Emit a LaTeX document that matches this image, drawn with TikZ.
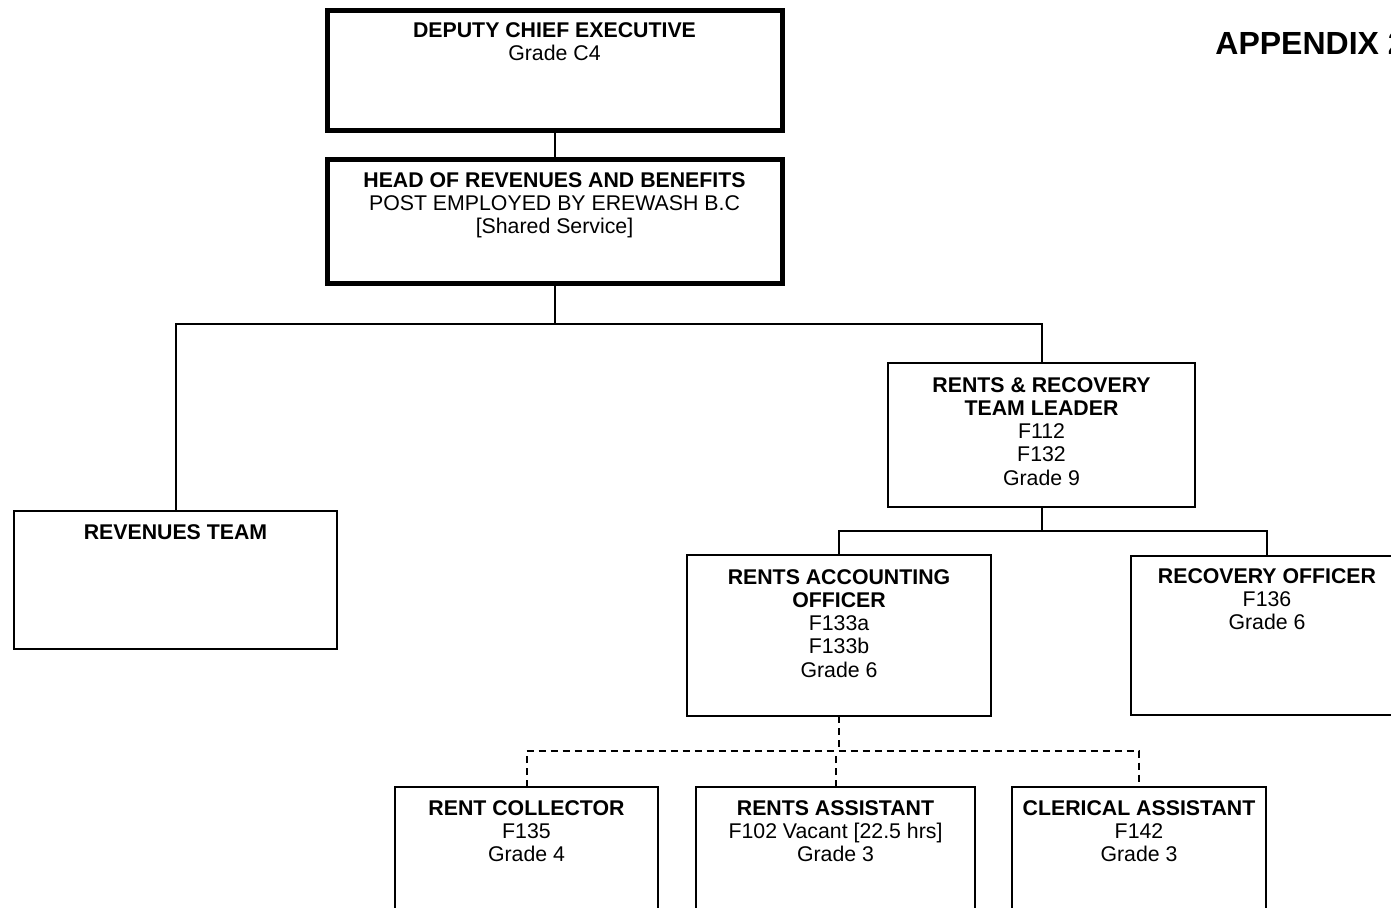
\documentclass[tikz,border=0pt]{standalone}
\usepackage{fontspec}
\setmainfont{Liberation Sans}
\begin{document}
\begin{tikzpicture}[x=0.5pt,y=-0.5pt,
  box/.style={draw, line width=1pt, inner sep=0pt, outer sep=0pt},
  thickbox/.style={box, line width=2.5pt},
  lbl/.style={anchor=north, inner sep=0pt, align=center, font=\fontsize{10.65pt}{11.6pt}\selectfont},
  conn/.style={line width=1pt},
  dconn/.style={line width=1pt, dash pattern=on 3.5pt off 2.5pt}]
\path[use as bounding box] (0,0) rectangle (1391,907);
\clip (0,0) rectangle (1391,907);

% boxes
\node[thickbox, minimum width=227.5pt, minimum height=60pt] (dce) at (554.5,70) {};
\node[thickbox, minimum width=227.5pt, minimum height=62pt] (hrb) at (554.5,221) {};
\node[box, minimum width=161.5pt, minimum height=69pt] (rev) at (175.5,580) {};
\node[box, minimum width=153.5pt, minimum height=72pt] (rrtl) at (1041.5,435) {};
\node[box, minimum width=152pt, minimum height=80.5pt] (rao) at (839,635.5) {};
\node[box, minimum width=136pt, minimum height=79.5pt] (rec) at (1267,635.5) {};
\node[box, minimum width=131.5pt, minimum height=73pt] (rc) at (526.5,860) {};
\node[box, minimum width=139.5pt, minimum height=73pt] (ra) at (835.5,860) {};
\node[box, minimum width=127pt, minimum height=73pt] (ca) at (1139,860) {};

% texts
\node[lbl] (dce-t) at ([yshift=-6pt]dce.north) {\textbf{DEPUTY CHIEF EXECUTIVE}\\Grade C4};
\node[lbl] (hrb-t) at ([yshift=-6.5pt]hrb.north) {\textbf{HEAD OF REVENUES AND BENEFITS}\\POST EMPLOYED BY EREWASH B.C\\{[}Shared Service{]}};
\node[lbl] (rev-t) at ([yshift=-6.5pt]rev.north) {\textbf{REVENUES TEAM}};
\node[lbl] (rrtl-t) at ([yshift=-7pt]rrtl.north) {\textbf{RENTS \& RECOVERY}\\\textbf{TEAM LEADER}\\F112\\F132\\Grade 9};
\node[lbl] (rao-t) at ([yshift=-7pt]rao.north) {\textbf{RENTS ACCOUNTING}\\\textbf{OFFICER}\\F133a\\F133b\\Grade 6};
\node[lbl] (rec-t) at ([yshift=-6pt]rec.north) {\textbf{RECOVERY OFFICER}\\F136\\Grade 6};
\node[lbl] (rc-t) at ([yshift=-6.5pt]rc.north) {\textbf{RENT COLLECTOR}\\F135\\Grade 4};
\node[lbl] (ra-t) at ([yshift=-6.5pt]ra.north) {\textbf{RENTS ASSISTANT}\\F102 Vacant {[}22.5 hrs{]}\\Grade 3};
\node[lbl] (ca-t) at ([yshift=-6.5pt]ca.north) {\textbf{CLERICAL ASSISTANT}\\F142\\Grade 3};
\node[anchor=base west, inner sep=0pt, font=\fontsize{16pt}{19pt}\selectfont\bfseries] (app) at (1215,54) {APPENDIX 2};

% connectors
\coordinate (j1) at (554.5,324);
\coordinate (j2) at (1041.5,531);
\coordinate (j3) at (839,751);
\draw[conn] (dce.south) -- (hrb.north);
\draw[conn] (hrb.south) -- (j1);
\draw[conn] (rev.north) |- (j1) -| (rrtl.north);
\draw[conn] (rrtl.south) -- (j2);
\draw[conn] (rao.north) |- (j2) -| (rec.north);
\draw[dconn] (rao.south) -- (j3);
\draw[dconn] (rc.north) |- (j3) -| (ca.north);
\draw[dconn] (ra.north) -- (ra.north |- j3);
\end{tikzpicture}
\end{document}
